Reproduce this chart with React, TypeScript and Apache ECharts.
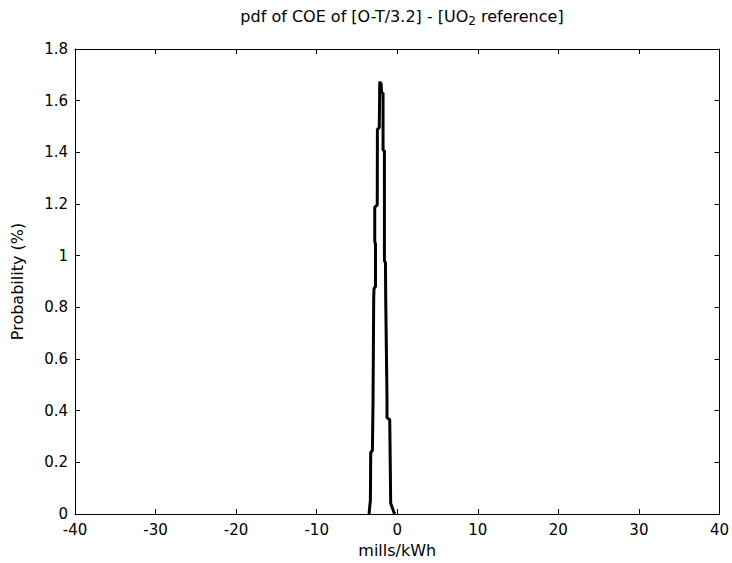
import React, { useEffect, useRef } from "react";
import * as echarts from "echarts";

// COE difference (mills/kWh) and probability (%)
const coeValues = [
  -3.5, -3.33, -3.29, -3.08, -3.0, -2.92, -2.88, -2.7, -2.7, -2.79, -2.79, -2.48, -2.46, -2.23, -2.17,
  -2.0, -1.95, -1.76, -1.76, -1.59, -1.59, -1.46, -1.43, -1.27, -1.27, -0.93, -0.81, -0.43, -0.31,
];
const probValues = [
  0.0, 0.054, 0.238, 0.246, 0.45, 0.835, 0.873, 0.88, 1.046, 1.054, 1.188, 1.196, 1.488, 1.496, 1.673,
  1.665, 1.63, 1.63, 1.41, 1.404, 0.98, 0.973, 0.835, 0.45, 0.373, 0.365, 0.042, 0.008, 0.0,
];
const xTicks = { min: -40, max: 40, interval: 10 };
const yTicks = { min: 0, max: 1.8, interval: 0.2 };

const FONT = "DejaVu Sans, Liberation Sans, Arial, sans-serif";

export default function App() {
  const ref = useRef<HTMLDivElement>(null);
  useEffect(() => {
    if (!ref.current) return;
    const chart = echarts.init(ref.current, null, { renderer: "svg" });
    const data = coeValues.map((x, i) => [x, probValues[i]]);
    const axisLine = { show: true, onZero: false, lineStyle: { color: "#000", width: 1 } };
    const tick = { show: true, inside: true, length: 5, lineStyle: { color: "#000", width: 1 } };
    const label = { color: "#000", fontSize: 15, fontFamily: FONT };
    chart.setOption({
      animation: false,
      backgroundColor: "#fff",
      title: {
        text: "pdf of COE of [O-T/3.2] - [UO{sub|2} reference]",
        left: 397,
        top: 0,
        textAlign: "center",
        textStyle: {
          color: "#000",
          fontSize: 16,
          fontWeight: "normal",
          fontFamily: FONT,
          rich: {
            sub: { fontSize: 12, fontFamily: FONT, color: "#000", padding: [10, 0, 0, 0] },
          },
        },
      },
      grid: { left: 75, right: 12, top: 49, bottom: 46 },
      xAxis: [
        {
          type: "value",
          position: "bottom",
          ...xTicks,
          axisLine,
          axisTick: tick,
          axisLabel: { ...label, margin: 8 },
          splitLine: { show: false },
          name: "mills/kWh",
          nameLocation: "middle",
          nameGap: 28,
          nameTextStyle: { color: "#000", fontSize: 16, fontFamily: FONT },
        },
        {
          type: "value",
          position: "top",
          ...xTicks,
          axisLine,
          axisTick: tick,
          axisLabel: { show: false },
          splitLine: { show: false },
        },
      ],
      yAxis: [
        {
          type: "value",
          position: "left",
          ...yTicks,
          axisLine,
          axisTick: tick,
          axisLabel: { ...label, margin: 7 },
          splitLine: { show: false },
          name: "Probability (%)",
          nameLocation: "middle",
          nameGap: 50,
          nameRotate: 90,
          nameTextStyle: { color: "#000", fontSize: 16, fontFamily: FONT },
        },
        {
          type: "value",
          position: "right",
          ...yTicks,
          axisLine,
          axisTick: tick,
          axisLabel: { show: false },
          splitLine: { show: false },
        },
      ],
      series: [
        {
          type: "line",
          xAxisIndex: 0,
          yAxisIndex: 0,
          data,
          showSymbol: false,
          lineStyle: { color: "#000", width: 3 },
        },
      ],
    });
    return () => chart.dispose();
  }, []);
  return (
    <div
      ref={ref}
      style={{ position: "absolute", left: 0, top: 0, width: 732, height: 563 }}
    />
  );
}
